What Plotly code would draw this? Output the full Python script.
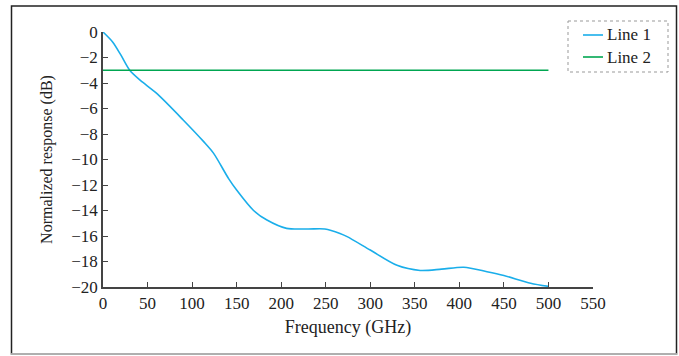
import plotly.graph_objects as go

freq1 = [0, 11, 20, 30, 42, 60, 90, 113, 124, 141, 150, 169, 184, 206, 230, 249, 266, 274, 300, 330, 356, 380, 405, 431, 450, 480, 500]
resp1 = [0, -0.8, -1.8, -3.0, -3.8, -4.8, -6.9, -8.6, -9.5, -11.5, -12.4, -14.0, -14.75, -15.4, -15.45, -15.45, -15.8, -16.05, -17.1, -18.3, -18.7, -18.6, -18.45, -18.8, -19.1, -19.7, -19.95]
freq2 = [0, 500]
resp2 = [-3, -3]
series_names = ["Line 1", "Line 2"]
series_colors = ["#1aaeea", "#00a651"]

x_ticks = [0, 50, 100, 150, 200, 250, 300, 350, 400, 450, 500, 550]
y_ticks = [0, -2, -4, -6, -8, -10, -12, -14, -16, -18, -20]

font = "Liberation Serif"
fig = go.Figure()
fig.add_trace(go.Scatter(x=freq1, y=resp1, mode="lines", name=series_names[0],
                         line=dict(color=series_colors[0], width=1.6, shape="spline", smoothing=0.8)))
fig.add_trace(go.Scatter(x=freq2, y=resp2, mode="lines", name=series_names[1],
                         line=dict(color=series_colors[1], width=1.6)))

W, H = 679, 356
L, R, T, B = 103, 86, 32, 69
pw, ph = W - L - R, H - T - B

def px(x):
    return (x - L) / pw

def py(y):
    return (H - B - y) / ph

shapes = [
    dict(type="rect", xref="paper", yref="paper", x0=px(11.5), x1=px(676.5), y0=py(6), y1=py(354),
         line=dict(color="#222", width=1.5), layer="above"),
    dict(type="line", xref="paper", yref="paper", x0=px(11), x1=px(677), y0=py(354), y1=py(354),
         line=dict(color="#ccc", width=1.5), layer="above"),
    dict(type="rect", xref="paper", yref="paper", x0=px(568), x1=px(668), y0=py(21), y1=py(72),
         line=dict(color="#999", width=1, dash="dot")),
]
annotations = []
row_y = [35, 57]
for name, color, ry in zip(series_names, series_colors, row_y):
    shapes.append(dict(type="line", xref="paper", yref="paper", x0=px(583), x1=px(603),
                       y0=py(ry), y1=py(ry), line=dict(color=color, width=1.6)))
    annotations.append(dict(xref="paper", yref="paper", x=px(605), y=py(ry), text=name,
                            showarrow=False, xanchor="left", yanchor="middle",
                            font=dict(family=font, size=17, color="#222")))

fig.update_layout(
    width=W, height=H,
    margin=dict(l=L, r=R, t=T, b=B),
    paper_bgcolor="white", plot_bgcolor="white",
    font=dict(family=font, size=17, color="#222"),
    showlegend=False,
    xaxis=dict(range=[0, 550], tickvals=x_ticks, showline=True, linecolor="#444",
               linewidth=1.5, ticks="inside", ticklen=5, tickcolor="#444",
               showgrid=False, zeroline=False, mirror=False,
               title=dict(text="Frequency (GHz)", font=dict(family=font, size=18), standoff=8)),
    yaxis=dict(range=[-20, 0], tickvals=y_ticks, showline=True, linecolor="#444",
               linewidth=1.5, ticks="inside", ticklen=5, tickcolor="#444",
               showgrid=False, zeroline=False,
               title=dict(text="Normalized response (dB)", font=dict(family=font, size=16), standoff=15)),
    shapes=shapes,
    annotations=annotations,
)

fig.write_html("out.html", config={"displayModeBar": False},
               post_script="document.body.style.margin='0px';")
